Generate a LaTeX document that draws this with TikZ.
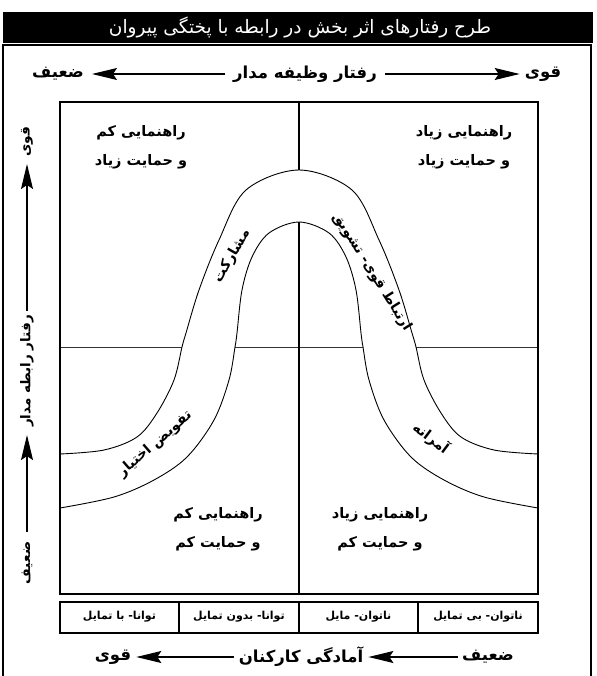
\documentclass[tikz,border=0pt]{standalone}
\usepackage{fontspec}
\usetikzlibrary{arrows.meta}
\TeXXeTstate=1
\newfontfamily\fa[Script=Arabic]{DejaVu Sans}
\begin{document}
\begin{tikzpicture}[x=1pt,y=-1pt,
  lbl/.style={font=\fa\bfseries\fontsize{16.5}{18}\selectfont, inner sep=0pt},
  vlbl/.style={font=\fa\bfseries\fontsize{13.5}{16}\selectfont, inner sep=0pt, rotate=90},
  quad/.style={font=\fa\bfseries\fontsize{14.5}{29}\selectfont, align=center, inner sep=0pt},
  band/.style={font=\fa\bfseries\fontsize{14}{16}\selectfont, inner sep=0pt},
  cell/.style={font=\fa\bfseries\fontsize{11}{13}\selectfont, inner sep=0pt},
  arr/.style={line width=1.1pt, -{Stealth[length=25pt,width=12pt,inset=4pt]}},
  frame/.style={line width=1.3pt},
  curve/.style={line width=0.9pt}]

\useasboundingbox (0,0) rectangle (596,676);

% title bar
\fill (3,12) rectangle (593,43);
\node[font=\fa\fontsize{18.5}{20}\selectfont, text=white, inner sep=0pt] (title) at (300,27)
  {\beginR طرح رفتارهای اثر بخش در رابطه با پختگی پیروان\endR};

% outer frame (open at bottom)
\draw[frame] (3,676) -- (3,45) -- (591,45) -- (591,676);

% top axis
\node[lbl] (topweak) at (58,74) {\beginR ضعیف\endR};
\node[lbl] (toplbl) at (305,74) {\beginR رفتار وظیفه مدار\endR};
\node[lbl] (topstrong) at (543,74) {\beginR قوی\endR};
\draw[arr, shorten <=8pt, shorten >=8pt] (toplbl.west) -- (topweak.east);
\draw[arr, shorten <=8pt, shorten >=5pt] (toplbl.east) -- (topstrong.west);

% left axis
\node[vlbl] (lstrong) at (27,142) {\beginR قوی\endR};
\node[vlbl] (llbl) at (27,371) {\beginR رفتار رابطه مدار\endR};
\node[vlbl] (lweak) at (27,563) {\beginR ضعیف\endR};
\draw[arr, shorten <=4pt, shorten >=7pt] (llbl.east) -- (lstrong.west);
\draw[arr, shorten <=10pt, shorten >=8pt] (lweak.east) -- (llbl.west);

% quadrant dividers
\draw[line width=0.8pt, black!80] (60,347) -- (538,347);
\draw[line width=1.1pt] (299,102) -- (299,594);

% band (white fill hides the dividers inside it)
\fill[white] plot[smooth, tension=0.55] coordinates {(60,454) (104,450) (137,437) (157,413) (174,380) (182,347) (186,333) (199,290) (219,240) (246,190) (299,170) (352,190) (379,240) (399,290) (412,333) (416,347) (424,380) (441,413) (461,437) (494,450) (538,454)}
  -- plot[smooth, tension=0.55] coordinates {(538,508) (484,497) (444,480) (411,457) (384,420) (369,380) (363,347) (361,333) (356,290) (346,257) (329,233) (299,222) (269,233) (252,257) (242,290) (237,333) (235,347) (229,380) (214,420) (187,457) (154,480) (114,497) (60,508)} -- cycle;
\draw[curve] plot[smooth, tension=0.55] coordinates {(60,454) (104,450) (137,437) (157,413) (174,380) (182,347) (186,333) (199,290) (219,240) (246,190) (299,170) (352,190) (379,240) (399,290) (412,333) (416,347) (424,380) (441,413) (461,437) (494,450) (538,454)};
\draw[curve] plot[smooth, tension=0.55] coordinates {(538,508) (484,497) (444,480) (411,457) (384,420) (369,380) (363,347) (361,333) (356,290) (346,257) (329,233) (299,222) (269,233) (252,257) (242,290) (237,333) (235,347) (229,380) (214,420) (187,457) (154,480) (114,497) (60,508)};

% inner box
\draw[frame] (60,102) rectangle (538,594);

% quadrant texts
\node[quad] (q1) at (141,147) {\beginR راهنمایی کم\endR\\\beginR و حمایت زیاد\endR};
\node[quad] (q2) at (464,147) {\beginR راهنمایی زیاد\endR\\\beginR و حمایت زیاد\endR};
\node[quad] (q3) at (218,529) {\beginR راهنمایی کم\endR\\\beginR و حمایت کم\endR};
\node[quad] (q4) at (380,529) {\beginR راهنمایی زیاد\endR\\\beginR و حمایت کم\endR};

% band labels
\node[band, rotate=60] (moshar) at (232,256) {\beginR مشارکت\endR};
\node[band, rotate=-58] (ertebat) at (372,272) {\beginR ارتباط قوی- تشویق\endR};
\node[band, rotate=41] (tafviz) at (155,444) {\beginR تفویض اختیار\endR};
\node[band, rotate=-37] (amer) at (431,438) {\beginR آمرانه\endR};

% readiness table
\draw[frame] (60,602) rectangle (538,633);
\draw[frame] (179,602) -- (179,633) (299,602) -- (299,633) (418,602) -- (418,633);
\node[cell] (c4) at (119.5,617) {\beginR توانا- با تمایل\endR};
\node[cell] (c3) at (239,617) {\beginR توانا- بدون تمایل\endR};
\node[cell] (c2) at (358.5,617) {\beginR ناتوان- مایل\endR};
\node[cell] (c1) at (478,617) {\beginR ناتوان- بی تمایل\endR};

% bottom axis
\node[lbl] (bstrong) at (113,657) {\beginR قوی\endR};
\node[lbl] (blbl) at (301,657) {\beginR آمادگی کارکنان\endR};
\node[lbl] (bweak) at (488,657) {\beginR ضعیف\endR};
\draw[arr, shorten <=5pt, shorten >=5pt] (blbl.west) -- (bstrong.east);
\draw[arr, shorten <=4pt, shorten >=5pt] (bweak.west) -- (blbl.east);
\end{tikzpicture}
\end{document}
